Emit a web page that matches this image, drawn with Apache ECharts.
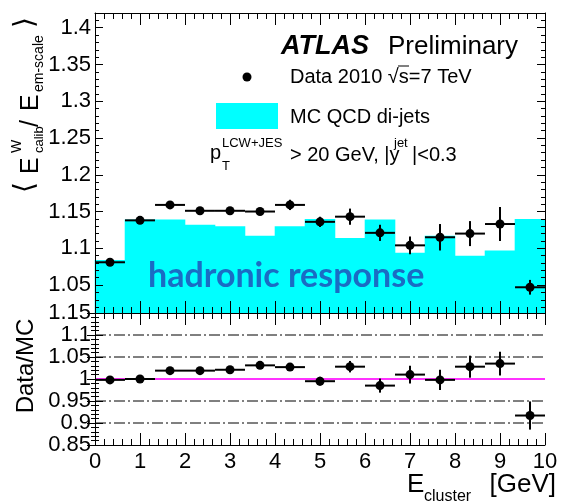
<!DOCTYPE html>
<html>
<head>
<meta charset="UTF-8"/>
<title>hadronic response</title>
<style>
    * { margin: 0; padding: 0; }
    body { background: #fff; }
    #chart { width: 562px; height: 503px; }
</style>
<script src="https://cdn.jsdelivr.net/npm/echarts@6/dist/echarts.min.js"></script>
</head>
<body>
<div id="chart"></div>
<script>
    // bins in E_cluster [GeV]
    const binEdges = [0, 0.667, 1.333, 2, 2.667, 3.333, 4, 4.667, 5.333, 6, 6.667, 7.333, 8, 8.667, 9.333, 10]
    const binCenters = [0.333, 1, 1.667, 2.333, 3, 3.667, 4.333, 5, 5.667, 6.333, 7, 7.667, 8.333, 9, 9.667]
    const binHalfWidth = 0.333

    // upper panel
    const mcValues = [1.084, 1.139, 1.139, 1.132, 1.130, 1.117, 1.130, 1.140, 1.114, 1.139, 1.094, 1.117, 1.090, 1.097, 1.140]
    const dataValues = [1.081, 1.138, 1.159, 1.151, 1.151, 1.150, 1.159, 1.136, 1.143, 1.121, 1.104, 1.115, 1.120, 1.133, 1.047]
    const dataErrors = [0.002, 0.002, 0.002, 0.002, 0.002, 0.003, 0.007, 0.007, 0.011, 0.011, 0.012, 0.018, 0.017, 0.023, 0.010]

    // lower panel
    const ratioValues = [0.998, 1.000, 1.019, 1.019, 1.021, 1.031, 1.027, 0.995, 1.028, 0.985, 1.010, 0.998, 1.028, 1.035, 0.917]
    const ratioErrors = [0.002, 0.002, 0.002, 0.002, 0.002, 0.003, 0.008, 0.010, 0.013, 0.016, 0.020, 0.023, 0.025, 0.027, 0.032]
    const ratioRefLines = [0.9, 0.95, 1.05, 1.1]
    const unity = 1.0

    // axes
    const upperMin = 1.012, upperMax = 1.42
    const upperTicks = [1.05, 1.1, 1.15, 1.2, 1.25, 1.3, 1.35, 1.4]
    const ratioMin = 0.85, ratioMax = 1.15

    const upperMinorTicks = []
    for (let k = 102; k <= 141; k++) {
        if (k % 5 !== 0) upperMinorTicks.push(k / 100)
    }

    const FONT = 'Liberation Sans'
    const black = '#000'

    const chart = echarts.init(document.getElementById('chart'), null, {renderer: 'canvas'})

    function xAxisCfg(gridIndex, position, showLabel) {
        return {
            type: 'value', gridIndex: gridIndex, position: position, z: 4,
            min: 0, max: 10, interval: 1,
            axisLine: {show: true, onZero: false, lineStyle: {color: black, width: 1}},
            axisTick: {show: true, inside: true, length: 12, lineStyle: {color: black, width: 1}},
            minorTick: {show: true, splitNumber: 5, length: 6, lineStyle: {color: black, width: 1}},
            axisLabel: {show: showLabel, fontFamily: FONT, fontSize: 22, color: black, margin: 6},
            splitLine: {show: false},
            minorSplitLine: {show: false}
        }
    }

    function upperY(position, major, showLabel) {
        return {
            type: 'value', gridIndex: 0, position: position, z: 4,
            min: upperMin, max: upperMax,
            axisLine: {show: major, lineStyle: {color: black, width: 1}},
            axisTick: {
                show: true, inside: true, length: major ? 8 : 4,
                customValues: major ? upperTicks : upperMinorTicks,
                lineStyle: {color: black, width: 1}
            },
            axisLabel: {
                show: showLabel, customValues: upperTicks,
                fontFamily: FONT, fontSize: 22, color: black, margin: 4
            },
            splitLine: {show: false}
        }
    }

    function ratioY(position, showLabel) {
        return {
            type: 'value', gridIndex: 1, position: position, z: 4,
            min: ratioMin, max: ratioMax, interval: 0.05,
            axisLine: {show: true, lineStyle: {color: black, width: 1}},
            axisTick: {show: true, inside: true, length: 8, lineStyle: {color: black, width: 1}},
            minorTick: {show: true, splitNumber: 5, length: 4, lineStyle: {color: black, width: 1}},
            axisLabel: {show: showLabel, fontFamily: FONT, fontSize: 22, color: black, margin: 4},
            splitLine: {show: false},
            minorSplitLine: {show: false}
        }
    }

    function renderPoint(params, api) {
        const x = api.value(0), y = api.value(1), e = api.value(2)
        const c = api.coord([x, y])
        const l = api.coord([x - binHalfWidth, y])
        const r = api.coord([x + binHalfWidth, y])
        const t = api.coord([x, y + e])
        const b = api.coord([x, y - e])
        const st = {stroke: black, lineWidth: 2}
        return {
            type: 'group',
            children: [
                {type: 'line', shape: {x1: l[0], y1: c[1], x2: r[0], y2: c[1]}, style: st},
                {type: 'line', shape: {x1: c[0], y1: t[1], x2: c[0], y2: b[1]}, style: st},
                {type: 'circle', shape: {cx: c[0], cy: c[1], r: 4.5}, style: {fill: black}}
            ]
        }
    }

    function renderBin(params, api) {
        const lo = api.value(0), hi = api.value(1), v = api.value(2)
        const p0 = api.coord([lo, v])
        const p1 = api.coord([hi, upperMin])
        return {
            type: 'rect',
            shape: {x: p0[0] - 0.3, y: p0[1], width: p1[0] - p0[0] + 0.6, height: p1[1] - p0[1]},
            style: {fill: '#00ffff'}
        }
    }

    const refSeries = ratioRefLines.map(v => ({
        type: 'line', xAxisIndex: 2, yAxisIndex: 4,
        data: [[0, v], [10, v]], symbol: 'none', silent: true, z: 1,
        lineStyle: {color: black, width: 1, type: [11, 3, 2, 3]}
    }))

    // y title pieces, laid out along the rotated text line (u = along, v = across)
    const yTitle = [
        {t: '\u27E8', u: 0, v: 26, f: '28px DejaVu Sans'},
        {t: 'E', u: 19, v: 31, f: '25px ' + FONT},
        {t: 'W', u: 40, v: 17, f: '14px ' + FONT},
        {t: 'calib', u: 40, v: 39, f: '13px ' + FONT},
        {t: '/', u: 66, v: 31, f: '25px ' + FONT},
        {t: 'E', u: 82, v: 31, f: '25px ' + FONT},
        {t: 'em-scale', u: 101, v: 39, f: '14px ' + FONT},
        {t: '\u27E9', u: 165, v: 26, f: '28px DejaVu Sans'}
    ]

    const txt = (x, y, text, font, extra) => Object.assign({
        type: 'text', x: x, y: y, silent: true,
        style: {text: text, font: font, fill: black, verticalAlign: 'middle', align: 'left'}
    }, extra || {})

    chart.setOption({
        animation: false,
        backgroundColor: '#fff',
        grid: [
            {left: 95, top: 13, width: 450, height: 300, outerBoundsMode: 'none'},
            {left: 95, top: 313, width: 450, height: 132, outerBoundsMode: 'none'}
        ],
        xAxis: [
            xAxisCfg(0, 'bottom', false),
            xAxisCfg(0, 'top', false),
            xAxisCfg(1, 'bottom', true),
            xAxisCfg(1, 'top', false)
        ],
        yAxis: [
            upperY('left', true, true),
            upperY('left', false, false),
            upperY('right', true, false),
            upperY('right', false, false),
            ratioY('left', true),
            ratioY('right', false)
        ],
        series: [
            {
                type: 'custom', name: 'MC QCD di-jets', xAxisIndex: 0, yAxisIndex: 0, z: 1,
                renderItem: renderBin, encode: {x: [0, 1], y: 2},
                data: mcValues.map((v, i) => [binEdges[i], binEdges[i + 1], v])
            },
            {
                type: 'custom', name: 'Data 2010', xAxisIndex: 0, yAxisIndex: 0, z: 5,
                renderItem: renderPoint, encode: {x: 0, y: 1},
                data: binCenters.map((x, i) => [x, dataValues[i], dataErrors[i]])
            },
            ...refSeries,
            {
                type: 'line', xAxisIndex: 2, yAxisIndex: 4,
                data: [[0, unity], [10, unity]], symbol: 'none', silent: true, z: 2,
                lineStyle: {color: '#ff33ff', width: 2}
            },
            {
                type: 'custom', name: 'Data/MC', xAxisIndex: 2, yAxisIndex: 4, z: 5,
                renderItem: renderPoint, encode: {x: 0, y: 1},
                data: binCenters.map((x, i) => [x, ratioValues[i], ratioErrors[i]])
            }
        ],
        graphic: [
            txt(148, 276, 'hadronic response', 'bold 34px Lato', {z: 10, style: {
                text: 'hadronic response', font: 'bold 34px Lato', fill: '#1a6cc4', verticalAlign: 'middle'}}),
            txt(281, 47, 'ATLAS', 'italic bold 27px ' + FONT),
            txt(388, 47, 'Preliminary', '26px ' + FONT),
            {type: 'circle', shape: {cx: 247, cy: 77, r: 4.5}, style: {fill: black}},
            txt(290, 77, 'Data 2010 \u221As=7 TeV', '20px ' + FONT),
            {type: 'line', shape: {x1: 398, y1: 66, x2: 409, y2: 66}, style: {stroke: black, lineWidth: 1}},
            {type: 'rect', shape: {x: 216, y: 103, width: 62, height: 26}, style: {fill: '#00ffff'}},
            txt(290, 117, 'MC QCD di-jets', '20px ' + FONT),
            txt(210, 153, 'p', '20px ' + FONT),
            txt(222, 143, 'LCW+JES', '13px ' + FONT),
            txt(222, 166, 'T', '13px ' + FONT),
            txt(290, 155, '> 20 GeV, |y', '20px ' + FONT),
            txt(394, 143, 'jet', '13px ' + FONT),
            txt(412, 155, '|<0.3', '20px ' + FONT),
            {
                type: 'group', x: 0, y: 193, rotation: Math.PI / 2,
                children: yTitle.map(p => txt(p.u, p.v, p.t, p.f))
            },
            txt(26, 366, 'Data/MC', '24px ' + FONT, {rotation: Math.PI / 2, style: {
                text: 'Data/MC', font: '24px ' + FONT, fill: black, align: 'center', verticalAlign: 'middle'}}),
            txt(407, 485, 'E', '26px ' + FONT),
            txt(424, 497, 'cluster', '16px ' + FONT),
            txt(556, 485, '[GeV]', '26px ' + FONT, {style: {
                text: '[GeV]', font: '26px ' + FONT, fill: black, align: 'right', verticalAlign: 'middle'}})
        ]
    })
</script>
</body>
</html>
